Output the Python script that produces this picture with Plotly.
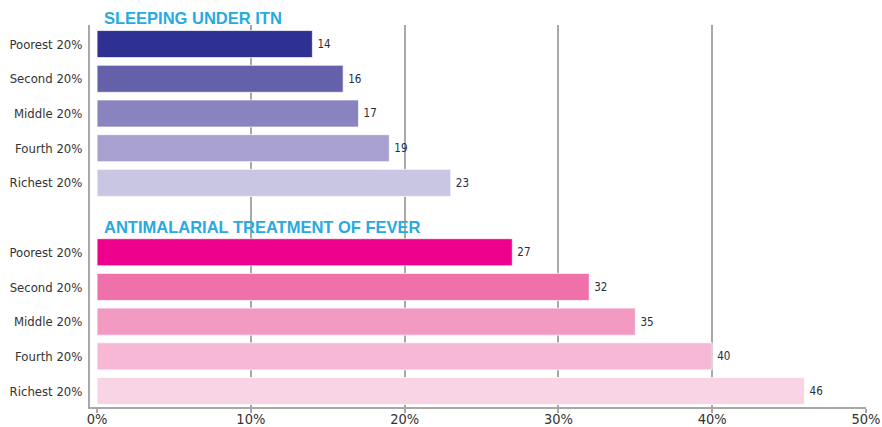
import plotly.graph_objects as go

# ---- data ----
quintiles = ["Poorest 20%", "Second 20%", "Middle 20%", "Fourth 20%", "Richest 20%"]
itn_values = [14, 16, 17, 19, 23]
treatment_values = [27, 32, 35, 40, 46]
group_titles = ["SLEEPING UNDER ITN", "ANTIMALARIAL TREATMENT OF FEVER"]
x_tick_values = [0, 10, 20, 30, 40, 50]
x_tick_labels = ["0%", "10%", "20%", "30%", "40%", "50%"]

itn_colors = ["#2e3192", "#6560aa", "#8984bf", "#a8a1cf", "#c9c6e3"]
treatment_colors = ["#ec008c", "#f071a9", "#f39ac2", "#f6b8d4", "#f8d4e5"]

NARROW = "Liberation Sans Narrow, Arial Narrow, DejaVu Sans Condensed, sans-serif"

itn_pos = list(range(len(quintiles)))
treat_pos = [p + len(quintiles) + 1 for p in itn_pos]

fig = go.Figure()
for vals, pos, cols in [(itn_values, itn_pos, itn_colors),
                        (treatment_values, treat_pos, treatment_colors)]:
    fig.add_trace(go.Bar(
        x=vals, y=pos, orientation="h",
        marker=dict(color=cols, line=dict(color="rgba(255,255,255,0.7)", width=1)),
        text=[str(v) for v in vals], texttemplate="\u2009%{text}", textposition="outside",
        outsidetextfont=dict(family=NARROW, size=11.5, color="#2b2b3a"),
        cliponaxis=False, showlegend=False, hoverinfo="x+y",
    ))

title_font = dict(family="Liberation Sans, Arial, sans-serif", size=16.5, color="#27aae1")
fig.add_annotation(text="<b>" + group_titles[0] + "</b>", x=0.35, y=1.018,
                   xref="x", yref="paper", xanchor="left", yanchor="middle",
                   showarrow=False, font=title_font)
fig.add_annotation(text="<b>" + group_titles[1] + "</b>", x=0.35, y=0.471,
                   xref="x", yref="paper", xanchor="left", yanchor="middle",
                   showarrow=False, font=title_font)

fig.update_layout(
    width=882, height=427,
    margin=dict(l=90, r=16, t=25, b=20),
    paper_bgcolor="white", plot_bgcolor="white",
    barmode="overlay", bargap=0.22,
    xaxis=dict(range=[-0.46, 50], tickvals=x_tick_values, ticktext=x_tick_labels,
               showgrid=True, gridcolor="#a8a8a8", gridwidth=1.5,
               zeroline=True, zerolinecolor="rgba(0,0,0,0)", zerolinewidth=1,
               showline=True, linecolor="#a8a8a8", linewidth=1.5,
               ticks="outside", ticklen=4, tickcolor="#a8a8a8", tickwidth=1.5,
               ticklabelstandoff=-6,
               tickfont=dict(family=NARROW, size=14.5, color="#333333"),
               automargin=False, fixedrange=True),
    yaxis=dict(range=[10.46, -0.55], tickvals=itn_pos + treat_pos,
               ticktext=quintiles + quintiles,
               showgrid=False, zeroline=False,
               showline=True, linecolor="#a8a8a8", linewidth=2,
               ticks="", ticklabelstandoff=3,
               tickfont=dict(family=NARROW, size=13, color="#333333"),
               automargin=False, fixedrange=True),
)

fig.write_html("out.html", config={"displayModeBar": False},
               post_script="document.body.style.margin='0';document.body.style.overflow='hidden';")
